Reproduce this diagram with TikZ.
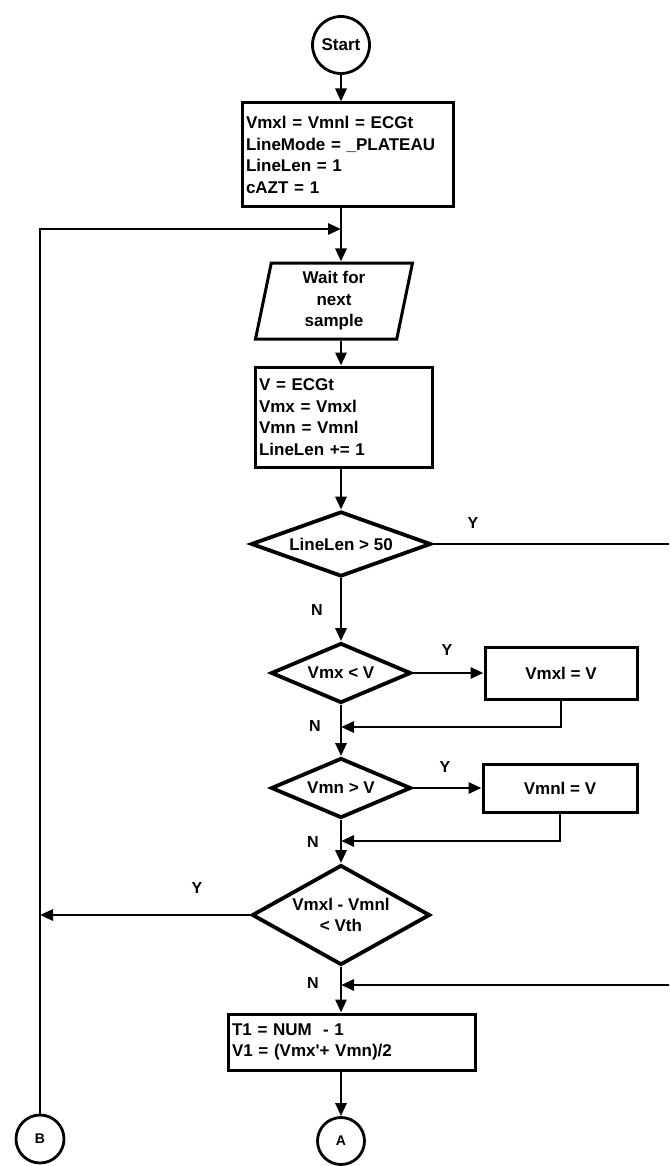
\documentclass[tikz,border=0pt]{standalone}
\usepackage{fontspec}
\setmainfont{Liberation Sans}
\usetikzlibrary{arrows.meta,shapes.geometric}
\begin{document}
\begin{tikzpicture}[x=1pt,y=-1pt,
  every node/.style={font=\bfseries\fontsize{17}{21.5}\selectfont},
  flow/.style={line width=2.9pt,-{Triangle[length=13pt,width=11pt]}},
  plain/.style={line width=2.9pt},
  procbox/.style={draw,line width=3pt,inner xsep=4pt,inner ysep=3pt,align=left},
  setbox/.style={draw,line width=3pt,inner sep=3pt,align=center},
  decision/.style={draw,diamond,line width=3.8pt,inner sep=0pt,align=center},
  iobox/.style={draw,trapezium,trapezium left angle=75,trapezium right angle=105,
    trapezium stretches body,line width=3pt,inner sep=0pt,align=center},
  conn/.style={draw,circle,line width=2.8pt,inner sep=0pt},
  lbl/.style={font=\bfseries\fontsize{16}{20}\selectfont}
]
\useasboundingbox (0,0) rectangle (669,1166);
\clip (0,0) rectangle (669,1166);

% terminal and off-page connectors
\node[conn,minimum size=57pt] (start) at (341,45) {Start};
\node[conn,minimum size=47pt,font=\bfseries\fontsize{14}{18}\selectfont] (A) at (341,1141) {A};
\node[conn,minimum size=48pt,font=\bfseries\fontsize{14}{18}\selectfont] (B) at (40,1139) {B};

% process steps
\node[procbox,text width=203pt,minimum height=104pt] (init) at (347.5,155)
  {Vmxl = Vmnl = ECGt\\LineMode = \_PLATEAU\\LineLen = 1\\cAZT = 1};
\node[iobox,minimum width=157pt,minimum height=76pt] (wait) at (334,301)
  {Wait for\\next\\sample};
\node[procbox,text width=169pt,minimum height=100pt] (vals) at (343.5,417)
  {V = ECGt\\Vmx = Vmxl\\Vmn = Vmnl\\LineLen += 1};
\node[setbox,minimum width=152pt,minimum height=52pt] (mxi) at (561,673) {Vmxl = V};
\node[setbox,minimum width=154pt,minimum height=48pt] (mni) at (560,788) {Vmnl = V};
\node[procbox,text width=239pt,minimum height=56pt] (t1) at (351.5,1042)
  {T1 = NUM~ - 1\\V1 = (Vmx\textquotesingle+ Vmn)/2};

% decisions
\node[decision,aspect=2.77,minimum width=180pt,minimum height=65pt] (d1) at (341,544) {LineLen > 50};
\node[decision,aspect=2.33,minimum width=140pt,minimum height=60pt] (d2) at (341,673) {Vmx < V};
\node[decision,aspect=2.33,minimum width=140pt,minimum height=60pt] (d3) at (341,788) {Vmn > V};
\node[decision,aspect=1.78,minimum width=178pt,minimum height=100pt] (d4) at (341,915) {Vmxl - Vmnl\\< Vth};

% junctions on the main line
\coordinate (jtop) at (341,229);
\coordinate (j1) at (341,727);
\coordinate (j2) at (341,841);
\coordinate (j3) at (341,985);
\coordinate (rr) at (678,544);

% branch labels
\node[lbl] (y1) at (473,523) {Y};
\node[lbl] (n1) at (317,610) {N};
\node[lbl] (y2) at (447,650) {Y};
\node[lbl] (n2) at (315,726) {N};
\node[lbl] (y3) at (445,767) {Y};
\node[lbl] (n3) at (313,842) {N};
\node[lbl] (y4) at (197,888) {Y};
\node[lbl] (n4) at (313,983) {N};

% connectors
\draw[flow] (start.south) -- (start.south |- init.north);
\draw[plain] (jtop |- init.south) -- (jtop);
\draw[flow] (jtop) -- (jtop |- wait.north);
\draw[flow] (jtop |- wait.south) -- (jtop |- vals.north);
\draw[flow] (jtop |- vals.south) -- (d1.north);
\draw[flow] (d1.south) -- (d2.north);
\draw[flow] (d2.east) -- (mxi.west);
\draw[plain] (d2.south) -- (j1);
\draw[flow] (mxi.south) |- (j1);
\draw[flow] (j1) -- (d3.north);
\draw[flow] (d3.east) -- (mni.west);
\draw[plain] (d3.south) -- (j2);
\draw[flow] (mni.south) |- (j2);
\draw[flow] (j2) -- (d4.north);
\draw[plain] (d4.south) -- (j3);
\draw[flow] (j3) -- (j3 |- t1.north);
\draw[flow] (j3 |- t1.south) -- (A.north);
\draw[flow] (d1.east) -- (rr) |- (j3);
\draw[flow] (B.north) |- (jtop);
\draw[flow] (d4.west) -- (d4.west -| B.north);
\end{tikzpicture}
\end{document}
